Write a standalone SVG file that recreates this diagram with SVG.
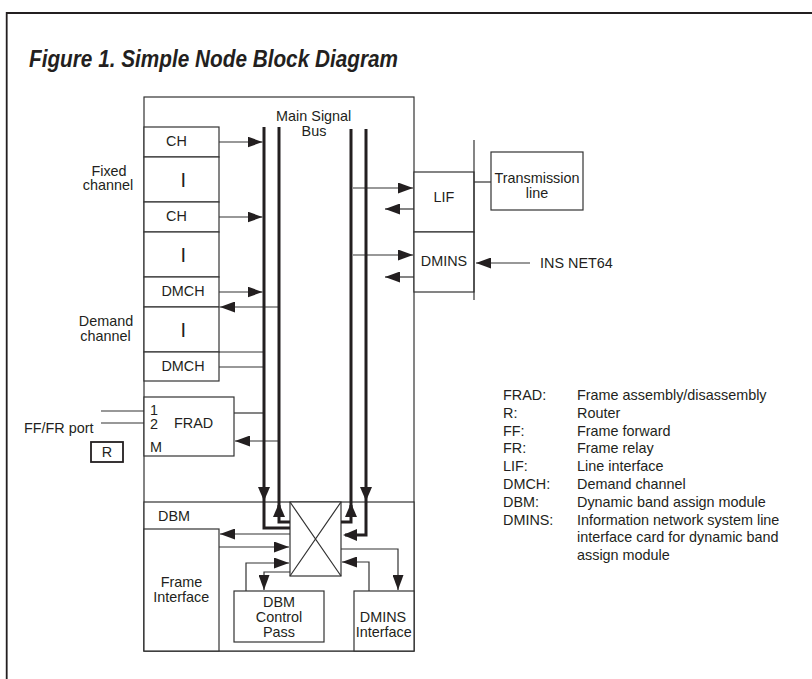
<svg xmlns="http://www.w3.org/2000/svg" width="812" height="679" viewBox="0 0 812 679">
<style>
.t{font-family:"Liberation Sans",Arial,Helvetica,sans-serif;font-size:14.4px;fill:#231f20}
.m{text-anchor:middle}
.title{font-family:"Liberation Sans",Arial,Helvetica,sans-serif;font-size:24px;font-weight:bold;font-style:italic;fill:#231f20}
.box{fill:#fff;stroke:#333;stroke-width:1.2}
.ln{fill:none;stroke:#333;stroke-width:1.2}
.bus{fill:none;stroke:#231f20;stroke-width:3}
</style>
<defs>
<marker id="ah" markerUnits="userSpaceOnUse" markerWidth="15" markerHeight="11" refX="15" refY="5.5" orient="auto" viewBox="0 0 15 11"><path d="M0,0L15,5.5L0,11z" fill="#231f20"/></marker>
<marker id="ahb" markerUnits="userSpaceOnUse" markerWidth="14" markerHeight="12" refX="12" refY="6" orient="auto" viewBox="0 0 14 12"><path d="M0,0L14,6L0,12z" fill="#231f20"/></marker>
</defs>
<rect width="812" height="679" fill="#fff"/>
<g id="frame">
<path d="M6.7,679V13H812" fill="none" stroke="#231f20" stroke-width="1.8"/>
</g>
<text class="title" x="29" y="67" textLength="369" lengthAdjust="spacingAndGlyphs">Figure 1. Simple Node Block Diagram</text>

<g id="node">
<rect class="box" x="144" y="97" width="270" height="554"/>
<text class="t m" x="313.7" y="121">Main Signal</text>
<text class="t m" x="314" y="135.5">Bus</text>
</g>

<g id="fixed-channel-label">
<text class="t m" x="109" y="175.5">Fixed</text>
<text class="t m" x="108" y="190">channel</text>
</g>
<g id="demand-channel-label">
<text class="t m" x="106" y="326">Demand</text>
<text class="t m" x="105.5" y="340.5">channel</text>
</g>

<g id="ch1"><rect class="box" x="144" y="127" width="75" height="30"/><text class="t m" x="176.5" y="146">CH</text></g>
<g id="ch-gap1"><rect class="box" x="144" y="157" width="75" height="45"/><text class="t m" x="183.3" y="186.7" style="font-size:20px">I</text></g>
<g id="ch2"><rect class="box" x="144" y="202" width="75" height="30"/><text class="t m" x="176.5" y="220.7">CH</text></g>
<g id="ch-gap2"><rect class="box" x="144" y="232" width="75" height="45"/><text class="t m" x="183.3" y="261.7" style="font-size:20px">I</text></g>
<g id="dmch1"><rect class="box" x="144" y="277" width="75" height="30"/><text class="t m" x="183" y="296">DMCH</text></g>
<g id="dmch-gap"><rect class="box" x="144" y="307" width="75" height="45"/><text class="t m" x="183.3" y="336.7" style="font-size:20px">I</text></g>
<g id="dmch2"><rect class="box" x="144" y="352" width="75" height="29"/><text class="t m" x="183" y="370.7">DMCH</text></g>

<g id="frad">
<rect class="box" x="144" y="397" width="90" height="59"/>
<text class="t" x="150" y="414.5">1</text>
<text class="t" x="150" y="429">2</text>
<text class="t" x="150" y="451.7">M</text>
<text class="t" x="174" y="428.3">FRAD</text>
</g>
<g id="ff-fr-port">
<text class="t" x="24" y="433.3">FF/FR port</text>
</g>
<g id="router">
<rect x="91" y="442" width="32" height="20" fill="#fff" stroke="#231f20" stroke-width="1.8"/>
<text class="t m" x="107" y="456.7">R</text>
</g>

<g id="lif"><rect class="box" x="414" y="172" width="60" height="60"/><text class="t m" x="444" y="202">LIF</text></g>
<g id="dmins"><rect class="box" x="414" y="232" width="60" height="60"/><text class="t m" x="444" y="266">DMINS</text></g>
<g id="transmission-line"><rect class="box" x="491" y="152" width="92" height="58"/><text class="t m" x="537" y="182.5">Transmission</text><text class="t m" x="537" y="197.5">line</text></g>
<g id="ins-net64"><text class="t" x="540" y="268">INS NET64</text></g>

<g id="dbm">
<rect class="box" x="144" y="502" width="270" height="149"/>
<text class="t" x="158" y="521">DBM</text>
</g>
<g id="frame-interface"><rect class="box" x="144" y="529" width="75" height="122"/><text class="t m" x="181.5" y="586.7">Frame</text><text class="t m" x="181.3" y="601.7">Interface</text></g>
<g id="crossbar"><rect class="box" x="290" y="502" width="51" height="74"/><path class="ln" d="M290,502L341,576M341,502L290,576" stroke-width="1"/></g>
<g id="dbm-control-pass"><rect class="box" x="234" y="591" width="90" height="51"/><text class="t m" x="279" y="606.7">DBM</text><text class="t m" x="279" y="622.3">Control</text><text class="t m" x="279" y="636.7">Pass</text></g>
<g id="dmins-interface"><rect class="box" x="354" y="591" width="60" height="60"/><text class="t m" x="383" y="622.3">DMINS</text><text class="t m" x="383.8" y="636.7">Interface</text></g>

<g id="legend">
<text class="t" x="503" y="400">FRAD:</text><text class="t" x="577" y="400">Frame assembly/disassembly</text>
<text class="t" x="503" y="417.8">R:</text><text class="t" x="577" y="417.8">Router</text>
<text class="t" x="503" y="435.6">FF:</text><text class="t" x="577" y="435.6">Frame forward</text>
<text class="t" x="503" y="453.4">FR:</text><text class="t" x="577" y="453.4">Frame relay</text>
<text class="t" x="503" y="471.2">LIF:</text><text class="t" x="577" y="471.2">Line interface</text>
<text class="t" x="503" y="489">DMCH:</text><text class="t" x="577" y="489">Demand channel</text>
<text class="t" x="503" y="506.8">DBM:</text><text class="t" x="577" y="506.8">Dynamic band assign module</text>
<text class="t" x="503" y="524.6">DMINS:</text><text class="t" x="577" y="524.6">Information network system line</text>
<text class="t" x="577" y="542.4">interface card for dynamic band</text>
<text class="t" x="577" y="560.2">assign module</text>
</g>

<g id="connectors">
<path class="ln" d="M474,140V300"/>
<path class="ln" d="M474,182H491"/>
<path class="ln" d="M101,411H144M101,423H144"/>
<path class="ln" d="M219,142H262.5" marker-end="url(#ah)"/>
<path class="ln" d="M219,217H262.5" marker-end="url(#ah)"/>
<path class="ln" d="M219,292H262.5" marker-end="url(#ah)"/>
<path class="ln" d="M278,307H220" marker-end="url(#ah)"/>
<path class="ln" d="M219,352H263M219,367H263"/>
<path class="ln" d="M234,413H263"/>
<path class="ln" d="M278,441H235" marker-end="url(#ah)"/>
<path class="ln" d="M353,188H413" marker-end="url(#ah)"/>
<path class="ln" d="M414,209H385" marker-end="url(#ah)"/>
<path class="ln" d="M353,255H413" marker-end="url(#ah)"/>
<path class="ln" d="M414,277H385" marker-end="url(#ah)"/>
<path class="ln" d="M530,263H476" marker-end="url(#ah)"/>
<path class="ln" d="M290,534H220" marker-end="url(#ah)"/>
<path class="ln" d="M219,547H289" marker-end="url(#ah)"/>
<path class="ln" d="M246,591V563H289" marker-end="url(#ah)"/>
<path class="ln" d="M290,572H264V590" marker-end="url(#ah)"/>
<path class="ln" d="M341,549H398V590" marker-end="url(#ah)"/>
<path class="ln" d="M369,591V562H342" marker-end="url(#ah)"/>
<path class="bus" d="M264,127V499" marker-end="url(#ahb)"/>
<path class="bus" d="M264,499V528H290"/>
<path class="bus" d="M279,127V510"/>
<path class="bus" d="M290,522H279V505" marker-end="url(#ahb)"/>
<path class="bus" d="M351,129V510"/>
<path class="bus" d="M341,522H351V505" marker-end="url(#ahb)"/>
<path class="bus" d="M366,129V499" marker-end="url(#ahb)"/>
<path class="bus" d="M366,499V535H345" marker-end="url(#ahb)"/>
</g>
</svg>
